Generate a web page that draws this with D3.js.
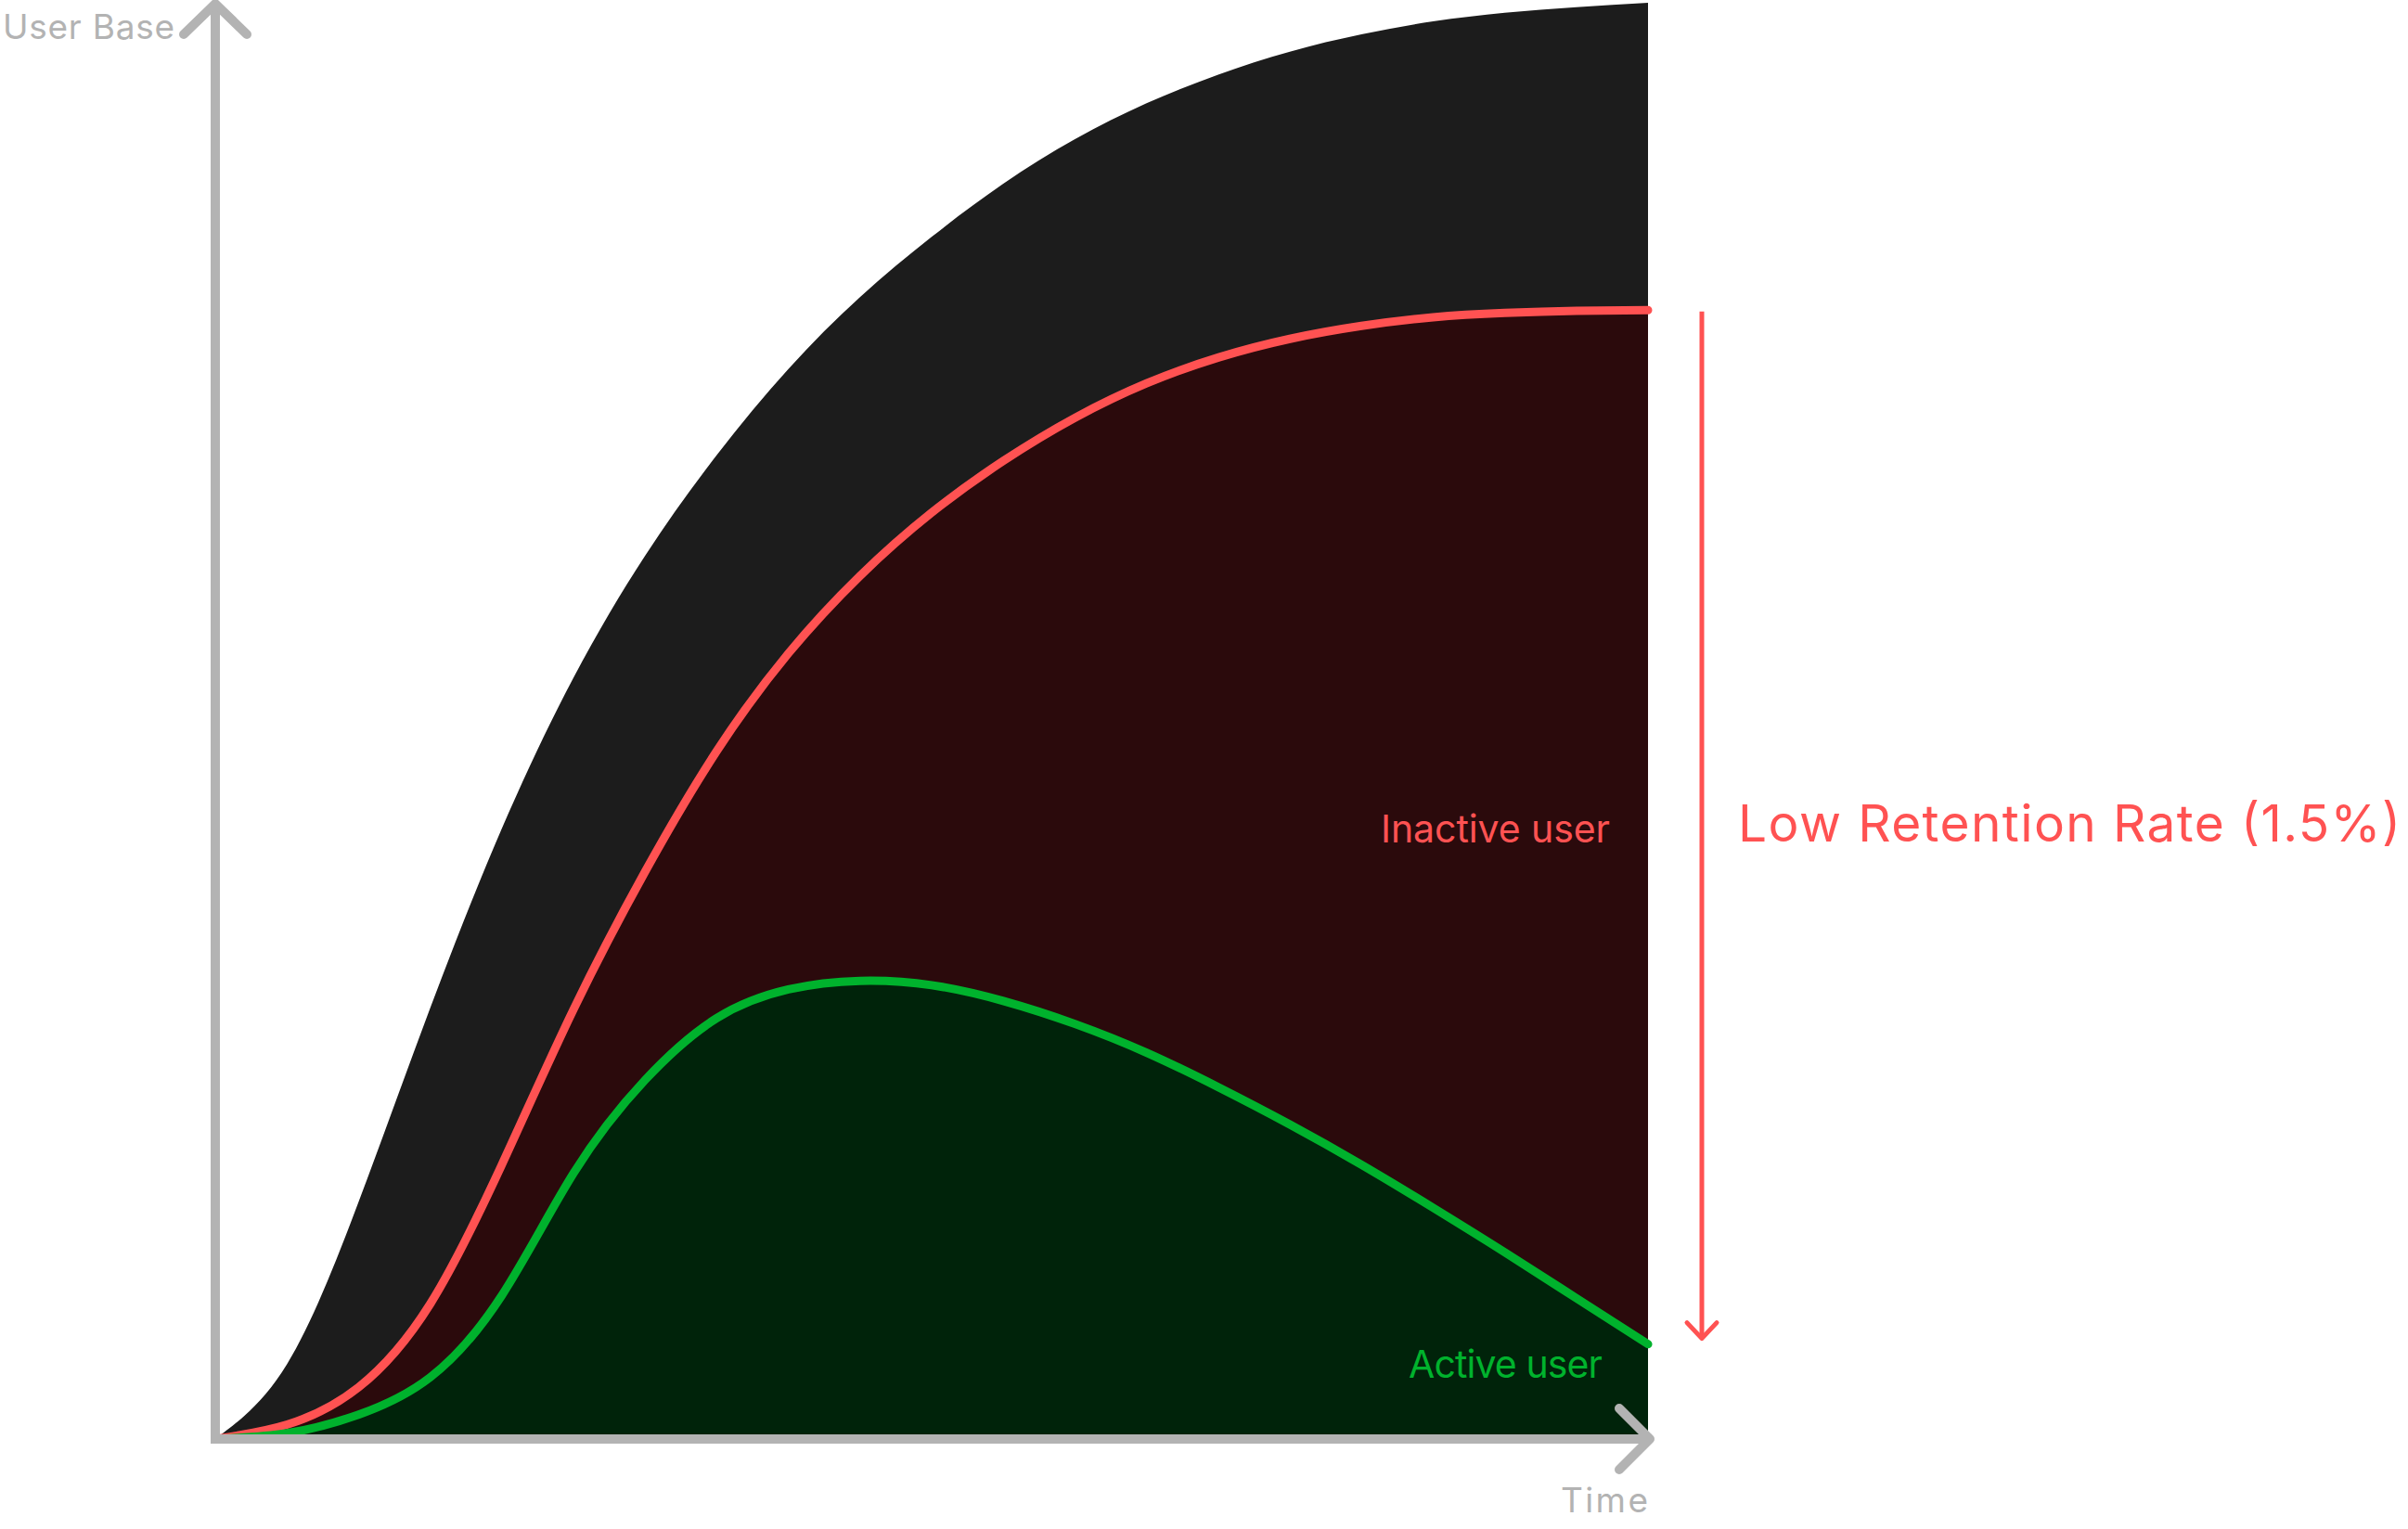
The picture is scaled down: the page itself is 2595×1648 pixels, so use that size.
<!DOCTYPE html>
<html>
<head>
<meta charset="utf-8">
<script src="https://cdn.jsdelivr.net/npm/d3@7"></script>
<style>
  html, body { margin: 0; padding: 0; background: #ffffff; }
  svg { display: block; }
  text { font-family: "Inter", "Open Sans", sans-serif; }
</style>
</head>
<body>
<svg id="chart" width="2595" height="1648"></svg>
<script>
// ---- Data (time 0..100, user base 0..100) ----
const time          = [0, 5, 10, 15, 20, 25, 30, 35, 40, 45, 50, 55, 60, 65, 70, 75, 80, 85, 90, 95, 100];
const totalUsers    = [0, 5.2, 16.5, 30.0, 42.5, 53.0, 61.5, 68.5, 74.5, 79.5, 83.7, 87.4, 90.5, 93.0, 95.0, 96.6, 97.8, 98.7, 99.3, 99.7, 100];
const inactiveUsers = [0, 1.0, 3.6, 9.4, 19.1, 29.9, 39.5, 47.9, 54.7, 60.1, 64.5, 68.1, 71.1, 73.5, 75.3, 76.6, 77.5, 78.1, 78.4, 78.55, 78.6];
const activeUsers   = [0, 0.4, 1.7, 4.3, 10.0, 18.5, 25.0, 29.3, 31.3, 31.9, 31.6, 30.5, 28.9, 26.9, 24.5, 21.9, 19.1, 16.1, 13.0, 9.8, 6.6];

const axisLabels = ["User Base", "Time"];
const seriesLabels = ["Inactive user", "Active user"];
const annotationText = "Low Retention Rate (1.5%)";
const annotationRange = [78.5, 7.0]; // from inactive level down to active level

// ---- Layout ----
const svg = d3.select("#chart");
const x = d3.scaleLinear().domain([0, 100]).range([232, 1776]);
const y = d3.scaleLinear().domain([0, 100]).range([1551, 3]);

const COL = {
  total: "#1c1c1c",
  inactiveFill: "#2b0a0c",
  activeFill: "#00230a",
  red: "#ff5252",
  green: "#00b22d",
  gray: "#b3b3b3"
};

function pts(ts, vs) { return ts.map((t, i) => [t, vs[i]]); }
const totalData = pts(time, totalUsers);
const inactiveData = pts(time, inactiveUsers);
const activeData = pts(time, activeUsers);

const curve = d3.curveNatural;
const area = d3.area().curve(curve)
  .x(d => x(d[0])).y0(y(0)).y1(d => y(d[1]));
const line = d3.line().curve(curve)
  .x(d => x(d[0])).y(d => y(d[1]));

svg.append("path").attr("d", area(totalData)).attr("fill", COL.total);
svg.append("path").attr("d", area(inactiveData)).attr("fill", COL.inactiveFill);
svg.append("path").attr("d", area(activeData)).attr("fill", COL.activeFill);

svg.append("path").attr("d", line(inactiveData)).attr("fill", "none")
  .attr("stroke", COL.red).attr("stroke-width", 9).attr("stroke-linecap", "round");
svg.append("path").attr("d", line(activeData)).attr("fill", "none")
  .attr("stroke", COL.green).attr("stroke-width", 9).attr("stroke-linecap", "round");

// ---- Axes with arrowheads ----
const ox = x(0), oy = y(0), xe = x(100) + 2, yt = y(100) + 1;
const axisG = svg.append("g").attr("fill", "none").attr("stroke", COL.gray)
  .attr("stroke-width", 10).attr("stroke-linecap", "round").attr("stroke-linejoin", "round");
axisG.append("path").attr("d", `M${ox},${oy}L${ox},${yt}`).attr("stroke-linecap", "butt");
axisG.append("path").attr("d", `M${ox - 34},${yt + 33}L${ox},${yt}L${ox + 34},${yt + 33}`);
axisG.append("path").attr("d", `M${ox - 5},${oy}L${xe},${oy}`).attr("stroke-linecap", "butt");
axisG.append("path").attr("d", `M${xe - 33},${oy - 33}L${xe},${oy}L${xe - 33},${oy + 33}`);

svg.append("text").attr("x", 3).attr("y", 42).attr("font-size", 37)
  .attr("textLength", 185).attr("fill", COL.gray).text(axisLabels[0]);
svg.append("text").attr("x", x(100)).attr("y", 1630).attr("font-size", 37)
  .attr("text-anchor", "end").attr("textLength", 94).attr("fill", COL.gray).text(axisLabels[1]);

// ---- Series labels ----
svg.append("text").attr("x", 1735).attr("y", 908).attr("font-size", 41)
  .attr("text-anchor", "end").attr("textLength", 247).attr("fill", COL.red).text(seriesLabels[0]);
svg.append("text").attr("x", 1727).attr("y", 1485).attr("font-size", 41)
  .attr("text-anchor", "end").attr("textLength", 209).attr("fill", COL.green).text(seriesLabels[1]);

// ---- Retention annotation arrow ----
const ax = 1834;
const aTop = y(annotationRange[0]), aBot = y(annotationRange[1]);
const annG = svg.append("g").attr("fill", "none").attr("stroke", COL.red)
  .attr("stroke-width", 5).attr("stroke-linecap", "round").attr("stroke-linejoin", "round");
annG.append("path").attr("d", `M${ax},${aTop}L${ax},${aBot}`).attr("stroke-linecap", "butt");
annG.append("path").attr("d", `M${ax - 16},${aBot - 17}L${ax},${aBot}L${ax + 16},${aBot - 17}`);

svg.append("text").attr("x", 1873).attr("y", 907).attr("font-size", 55)
  .attr("textLength", 714).attr("fill", COL.red).text(annotationText);
</script>
</body>
</html>
